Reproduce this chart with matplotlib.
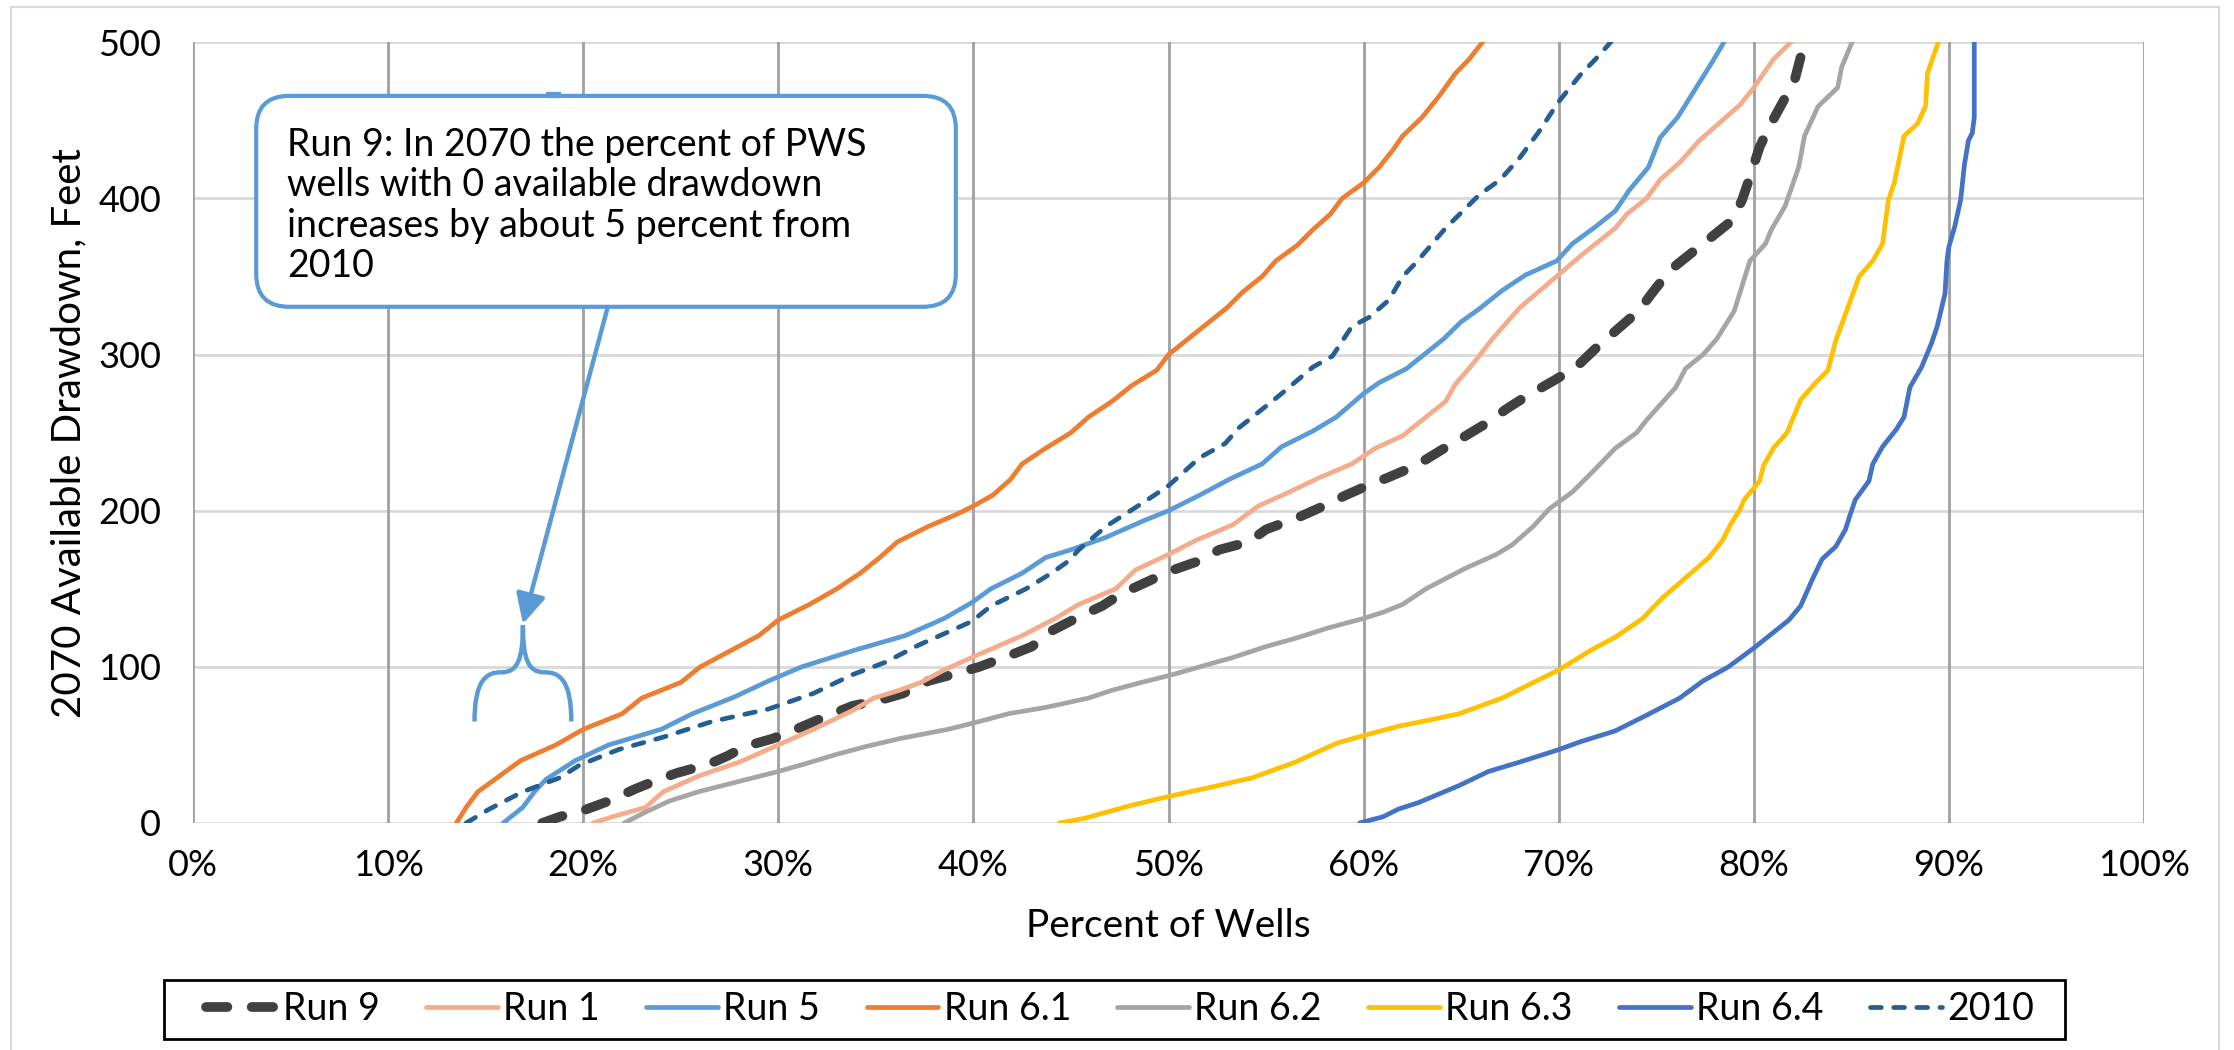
import matplotlib
matplotlib.use("Agg")
import matplotlib.pyplot as plt
from matplotlib.ticker import FuncFormatter
from matplotlib.patches import FancyBboxPatch, Rectangle, PathPatch
from matplotlib.path import Path

plt.rcParams['font.family'] = ['Lato', 'DejaVu Sans']

# ---------------- data (percent of wells, available drawdown in feet) ----------------
run9_pct = [17.9, 18.8, 20.0, 21.3, 22.7, 23.9, 24.8, 26.5, 27.4, 28.3, 29.7, 30.9, 32.4, 33.8, 35.3,
            36.4, 37.7, 39.2, 40.3, 42.0, 43.0, 44.0, 45.4, 46.6, 47.6, 49.0, 50.0, 51.6, 52.6, 54.1,
            55.0, 56.7, 57.6, 59.1, 60.0, 61.2, 62.7, 64.0, 65.1, 66.3, 67.3, 68.3, 69.7, 70.9, 71.9,
            72.9, 74.1, 74.7, 75.7, 76.9, 77.9, 78.9, 79.4, 79.7, 80.3, 80.8, 81.5, 82.1, 82.7]
run9_ft = [0, 4, 8, 14, 22, 28, 32, 38, 43, 49, 54, 60, 68, 75, 79,
           83, 91, 96, 100, 108, 113, 123, 132, 139, 147, 155, 161, 168, 175, 180,
           188, 196, 201, 210, 215, 221, 229, 239, 247, 256, 265, 273, 283, 292, 304,
           315, 328, 338, 354, 366, 376, 386, 399, 410, 433, 446, 462, 476, 505]

run1_pct = [20.5, 21.5, 23.2, 24.1, 25.9, 28.0, 30.0, 31.8, 33.8, 34.9, 36.2, 37.3, 38.5, 40.1, 42.5,
            44.2, 45.4, 47.3, 48.3, 50.0, 51.4, 53.3, 54.6, 56.2, 57.7, 59.4, 60.6, 62.0, 63.2, 64.2,
            64.7, 65.6, 66.6, 68.0, 69.7, 71.2, 72.9, 73.5, 74.5, 75.2, 76.2, 77.2, 79.3, 80.0, 81.0, 82.3]
run1_ft = [0, 4, 10, 20, 30, 39, 50, 60, 72, 80, 85, 90, 98, 107, 120,
           131, 140, 150, 162, 172, 181, 191, 203, 212, 221, 230, 240, 248, 260, 270,
           281, 294, 310, 330, 348, 364, 381, 390, 400, 412, 423, 437, 460, 471, 489, 505]

run5_pct = [15.9, 16.9, 17.5, 18.1, 19.6, 21.3, 24.0, 25.6, 27.8, 29.5, 31.2, 34.0, 36.5, 38.5, 39.9,
            40.9, 42.5, 43.7, 45.0, 46.8, 48.8, 50.0, 51.6, 53.1, 54.8, 55.8, 57.4, 58.6, 60.0, 60.8,
            62.2, 63.0, 64.1, 65.0, 65.9, 67.1, 68.3, 69.9, 70.7, 71.9, 72.9, 73.6, 74.6, 75.2, 76.1,
            77.0, 77.9, 78.7]
run5_ft = [0, 10, 20, 28, 40, 50, 60, 70, 81, 91, 100, 111, 120, 131, 141,
           150, 160, 170, 175, 183, 194, 200, 210, 220, 230, 241, 251, 260, 275, 282,
           291, 299, 310, 321, 329, 341, 351, 360, 371, 382, 392, 405, 420, 439, 452,
           470, 488, 505]

run61_pct = [13.5, 14.0, 14.6, 15.7, 16.8, 18.6, 20.0, 22.0, 23.0, 25.0, 26.0, 27.5, 29.0, 30.0, 31.6,
             33.0, 34.2, 35.2, 36.1, 37.7, 39.2, 40.0, 41.0, 41.9, 42.5, 43.7, 45.0, 45.9, 47.1, 48.1,
             49.4, 50.0, 50.9, 52.0, 53.0, 53.8, 54.8, 55.5, 56.6, 57.4, 58.3, 58.9, 60.0, 60.8, 61.5,
             62.0, 63.0, 63.9, 64.7, 65.4, 66.4]
run61_ft = [0, 10, 20, 30, 40, 50, 60, 70, 80, 90, 100, 110, 120, 130, 140,
            150, 160, 170, 180, 190, 198, 203, 210, 220, 230, 240, 250, 260, 270, 280,
            290, 300, 309, 320, 330, 340, 350, 360, 370, 380, 390, 400, 410, 420, 431,
            440, 452, 466, 480, 489, 505]

run62_pct = [22.1, 23.2, 24.4, 25.9, 28.1, 30.0, 31.4, 33.0, 34.5, 36.2, 38.7, 40.3, 41.8, 43.7, 45.9,
             47.1, 48.6, 50.2, 51.6, 53.3, 55.0, 56.7, 58.2, 60.0, 61.0, 62.0, 63.2, 65.2, 66.8, 67.6,
             68.7, 69.5, 70.7, 71.9, 72.9, 74.0, 74.5, 76.0, 76.5, 77.4, 78.1, 78.6, 79.0, 79.8, 80.6,
             80.9, 81.6, 82.3, 82.6, 83.3, 84.3, 84.5, 85.2]
run62_ft = [0, 7, 14, 20, 27, 33, 38, 44, 49, 54, 60, 65, 70, 74, 80,
            85, 90, 95, 100, 106, 113, 119, 125, 131, 135, 140, 150, 163, 172, 178,
            190, 201, 212, 227, 240, 250, 258, 279, 291, 300, 310, 320, 328, 360, 371,
            380, 395, 420, 440, 459, 471, 484, 505]

run63_pct = [44.4, 45.7, 48.0, 50.0, 52.2, 54.3, 56.5, 58.6, 60.0, 61.8, 63.4, 64.9, 67.1, 68.7, 70.0,
             71.7, 72.9, 74.3, 75.3, 76.5, 77.7, 78.4, 78.8, 79.3, 79.5, 80.3, 80.5, 81.0, 81.7, 82.4,
             83.1, 83.8, 84.2, 84.7, 85.4, 86.1, 86.6, 86.9, 87.2, 87.7, 88.4, 88.8, 88.9, 89.2, 89.6]
run63_ft = [0, 3, 11, 17, 23, 29, 39, 51, 56, 62, 66, 70, 80, 90, 98,
            111, 119, 131, 144, 157, 170, 181, 191, 201, 207, 219, 229, 240, 250, 271,
            281, 290, 309, 326, 350, 360, 371, 399, 410, 440, 448, 459, 480, 491, 505]

run64_pct = [59.8, 61.0, 61.8, 62.8, 64.9, 66.4, 68.0, 70.0, 71.1, 72.9, 74.5, 76.2, 77.4, 78.7, 80.0,
             81.8, 82.4, 83.0, 83.5, 84.2, 84.7, 84.9, 85.2, 85.9, 86.1, 86.6, 87.3, 87.7, 88.0, 88.6,
             89.1, 89.4, 89.8, 89.9, 90.0, 90.3, 90.6, 90.8, 91.0, 91.2, 91.3, 91.3]
run64_ft = [0, 4, 9, 13, 24, 33, 39, 47, 52, 59, 69, 80, 91, 100, 112,
            130, 139, 156, 169, 177, 188, 196, 207, 219, 230, 241, 252, 260, 279, 292,
            307, 318, 339, 360, 369, 382, 399, 422, 437, 442, 452, 505]

y2010_pct = [14.0, 15.2, 16.9, 18.8, 19.8, 21.8, 24.1, 26.6, 29.5, 31.8, 33.8, 35.5, 37.2, 39.9, 40.9,
             42.7, 44.0, 44.9, 45.4, 46.8, 48.8, 50.0, 51.6, 52.9, 53.6, 55.7, 57.4, 58.4, 59.4, 60.3,
             61.3, 62.0, 62.7, 64.2, 65.9, 67.0, 68.0, 69.0, 70.0, 71.1, 72.1, 73.0]
y2010_ft = [0, 9, 20, 29, 37, 47, 55, 65, 73, 83, 95, 103, 114, 129, 139,
            150, 160, 168, 175, 190, 206, 216, 234, 243, 253, 274, 292, 299, 318, 324,
            335, 350, 359, 381, 402, 412, 426, 443, 462, 479, 492, 505]

labels = ["Run 9", "Run 1", "Run 5", "Run 6.1", "Run 6.2", "Run 6.3", "Run 6.4", "2010"]
x_data = [run9_pct, run1_pct, run5_pct, run61_pct, run62_pct, run63_pct, run64_pct, y2010_pct]
y_data = [run9_ft, run1_ft, run5_ft, run61_ft, run62_ft, run63_ft, run64_ft, y2010_ft]
colors = ["#404040", "#F4AD8C", "#5B9BD5", "#ED7D31", "#A5A5A5", "#FFC000", "#4472C4", "#255E91"]
widths = [7.0, 3.4, 3.4, 3.4, 3.4, 3.4, 3.4, 3.4]
dashes = [(2.2, 2.5), None, None, None, None, None, None, (2.3, 2.6)]

x_ticks = list(range(0, 101, 10))
y_ticks = list(range(0, 501, 100))

annotation_text = ("Run 9: In 2070 the percent of PWS\nwells with 0 available drawdown\n"
                   "increases by about 5 percent from\n2010")

# ---------------- figure ----------------
W, H = 2234, 1050
fig = plt.figure(figsize=(W / 100, H / 100), dpi=100)
ax_l, ax_r, ax_t, ax_b = 193, 2144, 42.3, 823
ax = fig.add_axes([ax_l / W, 1 - ax_b / H, (ax_r - ax_l) / W, (ax_b - ax_t) / H])

ax.set_xlim(0, 100)
ax.set_ylim(0, 500)
ax.set_xticks(x_ticks)
ax.set_yticks(y_ticks)
ax.xaxis.set_major_formatter(FuncFormatter(lambda v, _: f"{v:.0f}%"))
for s in ax.spines.values():
    s.set_visible(False)
ax.tick_params(axis='both', length=0, labelsize=26, colors='black')
ax.tick_params(axis='x', pad=19)
ax.tick_params(axis='y', pad=23)

# gridlines
for xv in x_ticks:
    ax.axvline(xv, color="#A0A0A0", lw=2.0, zorder=1)
for yv in y_ticks:
    ax.axhline(yv, color="#D9D9D9", lw=2.0, zorder=0.9)

handles = []
for xs, ys, c, w, d, lab in zip(x_data, y_data, colors, widths, dashes, labels):
    if d is None:
        ln, = ax.plot(xs, ys, color=c, lw=w, solid_joinstyle='round', solid_capstyle='round',
                      label=lab, zorder=3)
    else:
        ln, = ax.plot(xs, ys, color=c, lw=w, linestyle=(0, d), dash_capstyle='round',
                      dash_joinstyle='round', label=lab, zorder=3)
    handles.append(ln)

ax.set_xlabel("Percent of Wells", fontsize=28, va='center')
ax.xaxis.set_label_coords(0.5, (ax_b - 926) / (ax_b - ax_t))
ax.set_ylabel("2070 Available Drawdown, Feet", fontsize=29, va='center')
ax.yaxis.set_label_coords((69 - ax_l) / (ax_r - ax_l), 0.5)

# ---------------- callout ----------------
callout_blue = "#5B9BD5"
px_per_x = (ax_r - ax_l) / 100.0
px_per_y = (ax_b - ax_t) / 500.0
box_x0, box_x1 = 3.24, 39.1
box_y0, box_y1 = 330.6, 465.7
ax.annotate("", xy=(16.91, 127.5), xytext=(21.27, 331),
            arrowprops=dict(arrowstyle="-|>,head_length=0.9,head_width=0.45", color=callout_blue,
                            lw=3.2, shrinkA=0, shrinkB=0, mutation_scale=20),
            zorder=6, annotation_clip=False)
box = FancyBboxPatch((box_x0, box_y0), box_x1 - box_x0, box_y1 - box_y0,
                     boxstyle=f"round,pad=0,rounding_size={33 / px_per_x:.3f}",
                     mutation_aspect=px_per_x / px_per_y,
                     facecolor="white", edgecolor=callout_blue, lw=3.0, zorder=7)
ax.add_patch(box)
ax.plot([18.1, 18.85], [466.3, 466.3], color=callout_blue, lw=4.5, zorder=8, solid_capstyle='butt')
ax.text(4.82, 395.5, annotation_text, fontsize=27, ha='left', va='center', linespacing=1.15, zorder=8)

# brace under the arrow
cx, top = 16.91, 126.5
verts = [(cx, top), (cx, 104), (cx - 0.3, 97), (cx - 1.05, 96.5),
         (cx - 1.9, 97), (cx - 2.48, 91), (cx - 2.48, 65),
         (cx, top), (cx, 104), (cx + 0.3, 97), (cx + 1.05, 96.5),
         (cx + 1.9, 97), (cx + 2.48, 91), (cx + 2.48, 65)]
codes = [Path.MOVETO, Path.CURVE4, Path.CURVE4, Path.CURVE4, Path.CURVE4, Path.CURVE4, Path.CURVE4,
         Path.MOVETO, Path.CURVE4, Path.CURVE4, Path.CURVE4, Path.CURVE4, Path.CURVE4, Path.CURVE4]
ax.add_patch(PathPatch(Path(verts, codes), facecolor='none', edgecolor=callout_blue, lw=3.2,
                       capstyle='butt', zorder=6))

# ---------------- legend ----------------
leg_l, leg_r, leg_t, leg_b = 164, 2065, 980, 1039
inner_l, inner_r = 206, 2034
leg = fig.legend(handles, labels, loc='center',
                 bbox_to_anchor=(inner_l / W, 1 - leg_b / H, (inner_r - inner_l) / W, (leg_b - leg_t) / H),
                 mode='expand', ncol=8, frameon=False, fontsize=27,
                 handlelength=1.9, handletextpad=0.15, columnspacing=1.0, borderaxespad=0,
                 borderpad=0.0)
fig.patches.append(Rectangle((leg_l / W, 1 - leg_b / H), (leg_r - leg_l) / W, (leg_b - leg_t) / H,
                             transform=fig.transFigure, fill=False, edgecolor='black', lw=2.0))

# figure border
fig.patches.append(Rectangle((10.7 / W, -0.05), (2219 - 10.7) / W, 1.05 - 6.7 / H,
                             transform=fig.transFigure, fill=False, edgecolor="#D9D9D9", lw=1.5))

fig.savefig("out.png", dpi=100)
